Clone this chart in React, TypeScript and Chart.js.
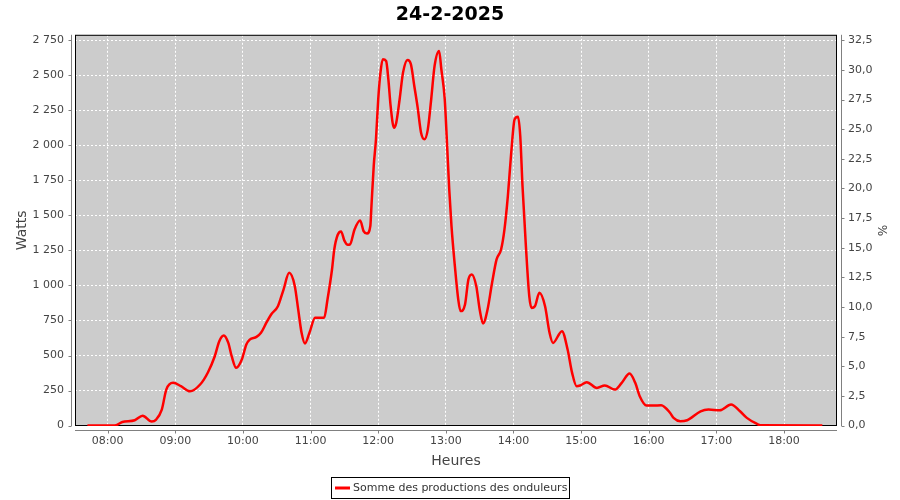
import React, { useEffect, useRef } from "react";
import { Chart, registerables } from "chart.js";

Chart.register(...registerables);

const chartTitle = "24-2-2025";
const seriesLabel = "Somme des productions des onduleurs";
const xAxisTitle = "Heures";
const yAxisTitle = "Watts";
const y2AxisTitle = "%";

const times = [
  "07:42", "08:06", "08:13", "08:24", "08:31", "08:39", "08:43", "08:48", "08:52", "08:58",
  "09:05", "09:13", "09:22", "09:29", "09:35", "09:39", "09:43", "09:47", "09:50", "09:54",
  "09:59", "10:03", "10:06", "10:12", "10:16", "10:21", "10:25", "10:31", "10:36", "10:41",
  "10:46", "10:49", "10:52", "10:55", "10:59", "11:04", "11:08", "11:12", "11:15", "11:19",
  "11:21", "11:24", "11:27", "11:30", "11:33", "11:35", "11:39", "11:44", "11:47", "11:50",
  "11:53", "11:54", "11:56", "11:58", "12:00", "12:02", "12:04", "12:07", "12:09", "12:11",
  "12:14", "12:16", "12:19", "12:22", "12:26", "12:29", "12:32", "12:35", "12:38", "12:41",
  "12:44", "12:47", "12:50", "12:54", "12:56", "12:59", "13:01", "13:03", "13:05", "13:08",
  "13:11", "13:13", "13:17", "13:20", "13:23", "13:27", "13:30", "13:33", "13:37", "13:41",
  "13:45", "13:49", "13:52", "13:55", "13:58", "14:01", "14:04", "14:06", "14:08", "14:11",
  "14:14", "14:16", "14:19", "14:23", "14:28", "14:32", "14:35", "14:43", "14:48", "14:52",
  "14:56", "14:59", "15:05", "15:14", "15:21", "15:30", "15:36", "15:43", "15:48", "15:52",
  "15:58", "16:04", "16:11", "16:19", "16:22", "16:28", "16:34", "16:46", "16:53", "17:03",
  "17:13", "17:21", "17:27", "17:36", "17:39", "18:34",
];

const watts = [
  0, 0, 25, 38, 71, 29, 43, 114, 257, 305,
  281, 245, 293, 381, 495, 602, 643, 590, 495, 412,
  471, 579, 614, 633, 662, 738, 793, 852, 971, 1090,
  995, 829, 662, 586, 662, 769, 769, 769, 900, 1114,
  1257, 1360, 1386, 1320, 1290, 1293, 1400, 1464, 1388, 1371,
  1424, 1567, 1852, 2043, 2329, 2519, 2614, 2602, 2471, 2281,
  2126, 2162, 2329, 2519, 2610, 2579, 2424, 2269, 2090, 2043,
  2114, 2329, 2567, 2674, 2543, 2329, 2019, 1686, 1424, 1138,
  900, 817, 864, 1043, 1079, 995, 829, 729, 829, 1019,
  1186, 1257, 1400, 1638, 1948, 2186, 2205, 2067, 1710, 1281,
  924, 840, 852, 948, 852, 662, 590, 674, 543, 376,
  281, 286, 310, 269, 286, 257, 305, 371, 305, 210,
  143, 143, 145, 90, 55, 31, 38, 102, 114, 109,
  150, 102, 55, 12, 2, 0,
];

const hourTicks = ["08:00", "09:00", "10:00", "11:00", "12:00", "13:00", "14:00", "15:00", "16:00", "17:00", "18:00"];
const wattTicks = [0, 250, 500, 750, 1000, 1250, 1500, 1750, 2000, 2250, 2500, 2750];
const pctTicks = [0, 2.5, 5, 7.5, 10, 12.5, 15, 17.5, 20, 22.5, 25, 27.5, 30, 32.5];

const xRange = ["07:31", "18:47"];
const wattRange = [-3, 2789];

const toMin = (s: string) => {
  const [h, m] = s.split(":").map(Number);
  return h * 60 + m;
};
const fmtMin = (v: number) => {
  const h = Math.floor(v / 60);
  const m = Math.round(v - h * 60);
  return String(h).padStart(2, "0") + ":" + String(m).padStart(2, "0");
};
const fmtWatt = (v: number) => String(Math.round(v)).replace(/\B(?=(\d{3})+(?!\d))/g, " ");
const fmtPct = (v: number) => v.toFixed(1).replace(".", ",");

// right axis: 2750 W corresponds to 32.5 %
const pctPerWatt = pctTicks[pctTicks.length - 1] / wattTicks[wattTicks.length - 1];

const FONT = "DejaVu Sans";
const AXIS_GRAY = "#808080";
const TEXT_GRAY = "#444444";

const decor = {
  id: "decor",
  beforeDraw(chart: any) {
    const { ctx, chartArea: a } = chart;
    ctx.save();
    ctx.fillStyle = "#ffffff";
    ctx.fillRect(0, 0, chart.width, chart.height);
    ctx.fillStyle = "#cccccc";
    ctx.fillRect(a.left, a.top, a.right - a.left, a.bottom - a.top);
    ctx.restore();
  },
  beforeDatasetsDraw(chart: any) {
    const { ctx, chartArea: a } = chart;
    ctx.save();
    ctx.strokeStyle = "#000000";
    ctx.lineWidth = 1;
    ctx.strokeRect(a.left + 0.5, a.top + 0.5, a.right - a.left - 1, a.bottom - a.top - 1);
    ctx.restore();
  },
  afterDraw(chart: any) {
    const { ctx, chartArea: a, scales } = chart;
    ctx.save();
    ctx.strokeStyle = AXIS_GRAY;
    ctx.lineWidth = 1;
    // left axis
    const lx = Math.round(a.left) - 4 + 0.5;
    ctx.beginPath();
    ctx.moveTo(lx, a.top);
    ctx.lineTo(lx, a.bottom);
    wattTicks.forEach((v) => {
      const y = Math.round(scales.y.getPixelForValue(v)) + 0.5;
      ctx.moveTo(lx - 3, y);
      ctx.lineTo(lx, y);
    });
    // right axis
    const rx = Math.round(a.right) + 4 + 0.5;
    ctx.moveTo(rx, a.top);
    ctx.lineTo(rx, a.bottom);
    pctTicks.forEach((v) => {
      const y = Math.round(scales.y2.getPixelForValue(v)) + 0.5;
      ctx.moveTo(rx, y);
      ctx.lineTo(rx + 3, y);
    });
    // bottom axis
    const by = Math.round(a.bottom) + 4 + 0.5;
    ctx.moveTo(a.left, by);
    ctx.lineTo(a.right, by);
    hourTicks.forEach((t) => {
      const x = Math.round(scales.x.getPixelForValue(toMin(t))) + 0.5;
      ctx.moveTo(x, by);
      ctx.lineTo(x, by + 3);
    });
    ctx.stroke();

    // legend
    ctx.font = `11px "${FONT}"`;
    const tw = ctx.measureText(seriesLabel).width;
    const boxW = Math.round(tw + 24);
    const boxH = 21;
    const bx = Math.round(chart.width / 2 - boxW / 2);
    const byy = 477;
    ctx.fillStyle = "#ffffff";
    ctx.fillRect(bx, byy, boxW, boxH);
    ctx.strokeStyle = "#000000";
    ctx.lineWidth = 1;
    ctx.strokeRect(bx + 0.5, byy + 0.5, boxW, boxH);
    ctx.strokeStyle = "rgb(255,0,0)";
    ctx.lineWidth = 3;
    ctx.beginPath();
    ctx.moveTo(bx + 4, byy + 11);
    ctx.lineTo(bx + 19, byy + 11);
    ctx.stroke();
    ctx.fillStyle = "#333333";
    ctx.textBaseline = "middle";
    ctx.textAlign = "left";
    ctx.fillText(seriesLabel, bx + 22, byy + 11.5);
    ctx.restore();
  },
};

export default function App() {
  const ref = useRef<HTMLCanvasElement | null>(null);

  useEffect(() => {
    document.body.style.margin = "0";
    if (!ref.current) return;
    Chart.defaults.font.family = FONT;
    const chart = new Chart(ref.current, {
      type: "line",
      data: {
        datasets: [
          {
            label: seriesLabel,
            data: times.map((t, i) => ({ x: toMin(t), y: watts[i] })),
            borderColor: "rgb(255,0,0)",
            backgroundColor: "rgb(255,0,0)",
            borderWidth: 2.5,
            pointRadius: 0,
            cubicInterpolationMode: "monotone",
            xAxisID: "x",
            yAxisID: "y",
          },
        ],
      },
      options: {
        animation: false,
        responsive: false,
        devicePixelRatio: 1,
        layout: { padding: { left: 0, right: 0, top: 0, bottom: 26 } },
        plugins: {
          legend: { display: false },
          tooltip: { enabled: false },
          title: {
            display: true,
            text: chartTitle,
            color: "#000000",
            font: { family: FONT, size: 19, weight: "bold" },
            padding: { top: 4, bottom: 8 },
          },
        },
        scales: {
          x: {
            type: "linear",
            position: "bottom",
            min: toMin(xRange[0]),
            max: toMin(xRange[1]),
            afterBuildTicks: (s: any) => {
              s.ticks = hourTicks.map((t) => ({ value: toMin(t) }));
            },
            afterFit: (s: any) => {
              s.height = 48;
            },
            grid: { color: "#ffffff", lineWidth: 1, drawTicks: false },
            border: { display: false, dash: [2, 2] },
            ticks: {
              padding: 9,
              color: TEXT_GRAY,
              font: { family: FONT, size: 11 },
              maxRotation: 0,
              autoSkip: false,
              callback: (v: any) => fmtMin(Number(v)),
            },
            title: {
              display: true,
              text: xAxisTitle,
              color: TEXT_GRAY,
              font: { family: FONT, size: 14 },
              padding: { top: 0, bottom: 4 },
            },
          },
          y: {
            type: "linear",
            position: "left",
            min: wattRange[0],
            max: wattRange[1],
            afterBuildTicks: (s: any) => {
              s.ticks = wattTicks.map((v) => ({ value: v }));
            },
            afterFit: (s: any) => {
              s.width = 75;
            },
            grid: { color: "#ffffff", lineWidth: 1, drawTicks: false },
            border: { display: false, dash: [2, 2] },
            ticks: {
              padding: 11,
              color: TEXT_GRAY,
              font: { family: FONT, size: 11 },
              autoSkip: false,
              callback: (v: any) => fmtWatt(Number(v)),
            },
            title: {
              display: true,
              text: yAxisTitle,
              color: TEXT_GRAY,
              font: { family: FONT, size: 14 },
              padding: { top: 14, bottom: 0 },
            },
          },
          y2: {
            type: "linear",
            position: "right",
            min: wattRange[0] * pctPerWatt,
            max: wattRange[1] * pctPerWatt,
            afterBuildTicks: (s: any) => {
              s.ticks = pctTicks.map((v) => ({ value: v }));
            },
            afterFit: (s: any) => {
              s.width = 63;
            },
            grid: { display: false, drawTicks: false },
            border: { display: false },
            ticks: {
              padding: 11,
              color: TEXT_GRAY,
              font: { family: FONT, size: 11 },
              autoSkip: false,
              callback: (v: any) => fmtPct(Number(v)),
            },
            title: {
              display: true,
              text: y2AxisTitle,
              color: TEXT_GRAY,
              font: { family: FONT, size: 12 },
              padding: { top: 12, bottom: 0 },
            },
          },
        },
      },
      plugins: [decor],
    } as any);
    return () => chart.destroy();
  }, []);

  return (
    <div style={{ width: 900, height: 500 }}>
      <canvas ref={ref} width={900} height={500} style={{ display: "block" }} />
    </div>
  );
}
